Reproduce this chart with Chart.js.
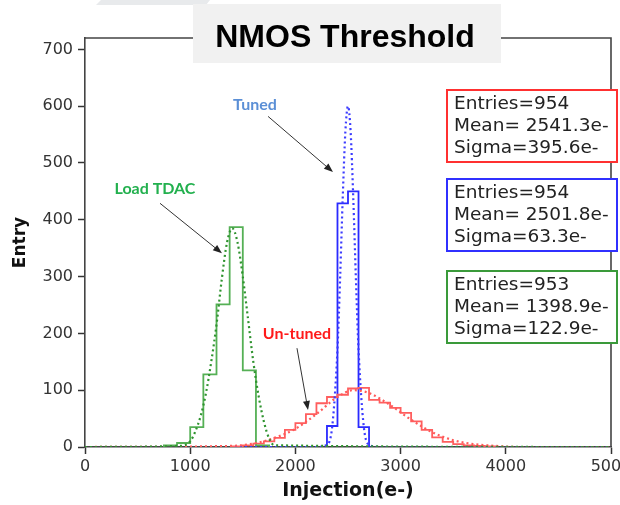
<!DOCTYPE html>
<html>
<head>
<meta charset="utf-8">
<script src="https://cdn.jsdelivr.net/npm/chart.js@4.4.1/dist/chart.umd.min.js"></script>
<style>
html, body { margin: 0; padding: 0; background: #fff; }
#wrap { width: 620px; height: 505px; }
</style>
</head>
<body>
<div id="wrap"><canvas id="graficoUmbral" width="620" height="505"></canvas></div>
<script>
// histogramas (bordes de bin en e-, cuentas)
const greenEdges = [750, 875, 1000, 1125, 1250, 1375, 1500, 1625, 1750];
const greenCounts = [3, 7, 35, 128, 251, 387, 135, 3];

const blueEdges = [2300, 2400, 2500, 2600, 2700];
const blueCounts = [37, 429, 450, 35];

const redEdges = [1400, 1500, 1600, 1700, 1800, 1900, 2000, 2100, 2200, 2300, 2400, 2500, 2600,
                  2700, 2800, 2900, 3000, 3100, 3200, 3300, 3400, 3500, 3600, 3700, 3800, 3900];
const redCounts = [1, 3, 6, 10, 16, 30, 42, 58, 77, 88, 92, 103, 104,
                   83, 78, 69, 60, 45, 30, 17, 9, 5, 3, 2, 1];

// ajustes gaussianos (linea punteada)
const greenFitX = [0, 900, 1000, 1050, 1100, 1150, 1200, 1250, 1300, 1350, 1400, 1450, 1500, 1550, 1600, 1650, 1700, 1750, 1800, 5000];
const greenFitY = [0, 2, 10, 28, 55, 95, 150, 215, 295, 360, 385, 360, 300, 225, 150, 90, 45, 15, 3, 0];

const blueFitX = [0, 2200, 2300, 2350, 2400, 2425, 2450, 2475, 2500, 2525, 2550, 2575, 2600, 2650, 2700, 2800, 5000];
const blueFitY = [0, 0, 4, 36, 172, 297, 439, 555, 600, 555, 439, 297, 172, 36, 4, 0, 0];

const redFitX = [0, 1400, 1600, 1800, 2000, 2200, 2400, 2550, 2700, 2900, 3100, 3300, 3500, 3700, 3900, 4100, 5000];
const redFitY = [0, 2, 6, 16, 32, 58, 88, 100, 95, 74, 48, 26, 12, 5, 2, 0, 0];

const xTicks = [0, 1000, 2000, 3000, 4000, 5000];
const yTicks = [0, 100, 200, 300, 400, 500, 600, 700];

const statBoxes = [
    { color: '#ff3030', top: 90, lines: ['Entries=954', 'Mean= 2541.3e-', 'Sigma=395.6e-'] },
    { color: '#3030ff', top: 179, lines: ['Entries=954', 'Mean= 2501.8e-', 'Sigma=63.3e-'] },
    { color: '#3a9a3a', top: 271, lines: ['Entries=953', 'Mean= 1398.9e-', 'Sigma=122.9e-'] }
];

const notas = [
    { text: 'Tuned', color: '#5b8fd6', at: [1616, 603], from: [1740, 582], to: [2357, 484] },
    { text: 'Load TDAC', color: '#22b04e', at: [665, 454], from: [713, 429], to: [1302, 341] },
    { text: 'Un-tuned', color: '#ff1a1a', at: [2015, 200], from: [2015, 174], to: [2120, 65] }
];

function histPoints(edges, counts) {
    const pts = [{ x: edges[0], y: 0 }];
    counts.forEach((c, i) => pts.push({ x: edges[i], y: c }));
    pts.push({ x: edges[edges.length - 1], y: 0 });
    return pts;
}
function fitPoints(xs, ys) {
    return xs.map((x, i) => ({ x: x, y: ys[i] }));
}

function flecha(ctx, x1, y1, x2, y2) {
    const ang = Math.atan2(y2 - y1, x2 - x1);
    ctx.strokeStyle = '#333';
    ctx.fillStyle = '#222';
    ctx.lineWidth = 1;
    ctx.beginPath();
    ctx.moveTo(x1, y1);
    ctx.lineTo(x2 - 6 * Math.cos(ang), y2 - 6 * Math.sin(ang));
    ctx.stroke();
    ctx.beginPath();
    ctx.moveTo(x2, y2);
    ctx.lineTo(x2 - 9 * Math.cos(ang) + 3.5 * Math.sin(ang), y2 - 9 * Math.sin(ang) - 3.5 * Math.cos(ang));
    ctx.lineTo(x2 - 9 * Math.cos(ang) - 3.5 * Math.sin(ang), y2 - 9 * Math.sin(ang) + 3.5 * Math.cos(ang));
    ctx.closePath();
    ctx.fill();
}

const decoracion = {
    id: 'decoracion',
    afterDraw(chart) {
        const ctx = chart.ctx;
        const a = chart.chartArea;
        const xs = chart.scales.x, ys = chart.scales.y;
        ctx.save();
        // marco superior y derecho
        ctx.strokeStyle = '#444';
        ctx.lineWidth = 1.6;
        ctx.beginPath();
        ctx.moveTo(a.left, a.top);
        ctx.lineTo(a.right, a.top);
        ctx.lineTo(a.right, a.bottom);
        ctx.stroke();

        // resto gris arriba a la izquierda
        ctx.fillStyle = '#e8eaec';
        ctx.beginPath();
        ctx.moveTo(101, 0); ctx.lineTo(210, 0); ctx.lineTo(206, 5); ctx.lineTo(96, 5);
        ctx.closePath();
        ctx.fill();

        // titulo
        ctx.fillStyle = '#f1f1f1';
        ctx.fillRect(193, 4, 308, 59);
        ctx.fillStyle = '#000';
        ctx.font = 'bold 32px "Liberation Sans", Arial, sans-serif';
        ctx.textAlign = 'center';
        ctx.textBaseline = 'alphabetic';
        ctx.fillText('NMOS Threshold', 345, 47);

        // cajas de estadisticas
        ctx.font = '18.5px "DejaVu Sans"';
        ctx.textAlign = 'left';
        ctx.textBaseline = 'middle';
        statBoxes.forEach(b => {
            ctx.fillStyle = '#fff';
            ctx.fillRect(447, b.top, 170, 72);
            ctx.strokeStyle = b.color;
            ctx.lineWidth = 2;
            ctx.strokeRect(447, b.top, 170, 72);
            ctx.fillStyle = '#222';
            b.lines.forEach((t, i) => ctx.fillText(t, 454, b.top + 14 + i * 22));
        });

        // anotaciones con flechas
        ctx.font = 'bold 16px Lato, "Open Sans", sans-serif';
        ctx.textAlign = 'center';
        notas.forEach(n => {
            ctx.fillStyle = n.color;
            ctx.fillText(n.text, xs.getPixelForValue(n.at[0]), ys.getPixelForValue(n.at[1]));
            flecha(ctx, xs.getPixelForValue(n.from[0]), ys.getPixelForValue(n.from[1]),
                   xs.getPixelForValue(n.to[0]), ys.getPixelForValue(n.to[1]));
        });
        ctx.restore();
    }
};

document.addEventListener('DOMContentLoaded', function () {
    const ctx = document.getElementById('graficoUmbral').getContext('2d');
    const fitBase = { pointRadius: 0, borderWidth: 2.2, borderDash: [2, 3], cubicInterpolationMode: 'monotone', fill: false };
    const histBase = { pointRadius: 0, borderWidth: 1.8, stepped: true, fill: false };
    new Chart(ctx, {
        type: 'line',
        data: {
            datasets: [
                Object.assign({ label: 'green fit', data: fitPoints(greenFitX, greenFitY), borderColor: '#2f932f' }, fitBase),
                Object.assign({ label: 'red fit', data: fitPoints(redFitX, redFitY), borderColor: '#ff5a5a' }, fitBase),
                Object.assign({ label: 'blue fit', data: fitPoints(blueFitX, blueFitY), borderColor: '#3c3cff' }, fitBase),
                Object.assign({ label: 'Load TDAC', data: histPoints(greenEdges, greenCounts), borderColor: '#55b055' }, histBase),
                Object.assign({ label: 'Un-tuned', data: histPoints(redEdges, redCounts), borderColor: '#ff5e5e' }, histBase),
                Object.assign({ label: 'Tuned', data: histPoints(blueEdges, blueCounts), borderColor: '#2a2aff' }, histBase)
            ]
        },
        options: {
            responsive: false,
            animation: false,
            devicePixelRatio: 1,
            layout: { padding: { top: 38, right: 9, left: 0, bottom: 0 } },
            plugins: { legend: { display: false }, tooltip: { enabled: false } },
            scales: {
                x: {
                    type: 'linear',
                    min: xTicks[0],
                    max: xTicks[xTicks.length - 1],
                    afterBuildTicks: s => { s.ticks = xTicks.map(v => ({ value: v })); },
                    afterFit: s => { s.height = 58; s.paddingLeft = 0; s.paddingRight = 0; },
                    ticks: { color: '#333', font: { family: 'DejaVu Sans', size: 16 }, padding: 3, maxRotation: 0, autoSkip: false,
                             callback: v => String(v) },
                    grid: { drawOnChartArea: false, tickLength: 7, color: '#333', tickWidth: 1.5 },
                    border: { color: '#444', width: 1.6 },
                    title: { display: true, text: 'Injection(e-)', color: '#111',
                             font: { family: 'DejaVu Sans', weight: 'bold', size: 19 }, padding: { top: 0, bottom: 3 } }
                },
                y: {
                    type: 'linear',
                    min: 0,
                    max: 720,
                    afterBuildTicks: s => { s.ticks = yTicks.map(v => ({ value: v })); },
                    afterFit: s => { s.width = 85; },
                    ticks: { color: '#333', font: { family: 'DejaVu Sans', size: 16 }, padding: 5, autoSkip: false,
                             callback: v => String(v) },
                    grid: { drawOnChartArea: false, tickLength: 7, color: '#333', tickWidth: 1.5 },
                    border: { color: '#444', width: 1.6 },
                    title: { display: true, text: 'Entry', color: '#111',
                             font: { family: 'DejaVu Sans', weight: 'bold', size: 17 }, padding: { top: 10, bottom: 10 } }
                }
            }
        },
        plugins: [decoracion]
    });
});
</script>
</body>
</html>
